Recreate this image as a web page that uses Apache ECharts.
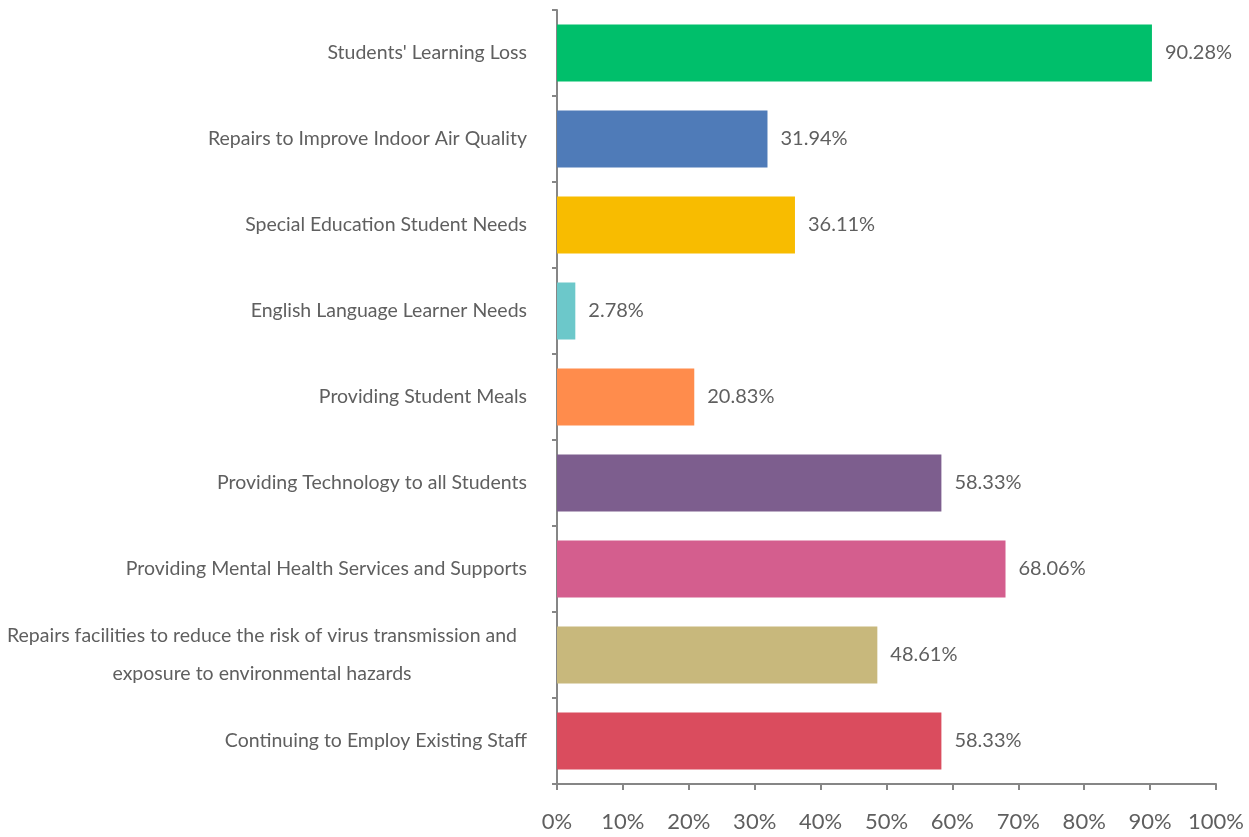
<!DOCTYPE html>
<html>
<head>
<meta charset="utf-8">
<script src="https://cdn.jsdelivr.net/npm/echarts@6/dist/echarts.min.js"></script>
<style>
  html, body { margin: 0; padding: 0; background: #fff; }
  #chart { width: 1249px; height: 837px; }
</style>
</head>
<body>
<div id="chart"></div>
<script>
// categories, top to bottom
const categories = [
  "Students' Learning Loss",
  "Repairs to Improve Indoor Air Quality",
  "Special Education Student Needs",
  "English Language Learner Needs",
  "Providing Student Meals",
  "Providing Technology to all Students",
  "Providing Mental Health Services and Supports",
  "Repairs facilities to reduce the risk of virus transmission and\nexposure to environmental hazards",
  "Continuing to Employ Existing Staff"
];
const values = [90.28, 31.94, 36.11, 2.78, 20.83, 58.33, 68.06, 48.61, 58.33];
const barColors = ["#00bf6b", "#4f7bb8", "#f8bc00", "#6cc8ca", "#ff8c4c", "#7d5e8e", "#d45e8e", "#c8b87c", "#da4c5e"];
const xTicks = [0, 10, 20, 30, 40, 50, 60, 70, 80, 90, 100];

const font = "Lato, sans-serif";
const grey = "#5f5f5f";

const chart = echarts.init(document.getElementById("chart"));
const options = {
  animation: false,
  grid: {
    left: 557,
    right: 33,
    top: 10,
    bottom: 53,
    outerBoundsMode: "none",
    containLabel: false
  },
  xAxis: {
    type: "value",
    min: xTicks[0],
    max: xTicks[xTicks.length - 1],
    interval: 10,
    axisLine: { show: true, lineStyle: { color: "#868686", width: 2 } },
    axisTick: { show: true, length: 6, lineStyle: { color: "#868686", width: 2 } },
    splitLine: { show: false },
    axisLabel: {
      margin: 27,
      fontFamily: font,
      fontSize: 22,
      color: grey,
      formatter: (v) => v + "%"
    }
  },
  yAxis: {
    type: "category",
    inverse: true,
    data: categories,
    axisLine: { show: true, lineStyle: { color: "#868686", width: 2 } },
    axisTick: { show: true, length: 5, lineStyle: { color: "#868686", width: 2 } },
    axisLabel: {
      margin: 30,
      fontFamily: font,
      fontSize: 19.5,
      color: grey,
      lineHeight: 38,
      formatter: (v) => {
        if (v.indexOf("\n") >= 0) {
          return v.split("\n").map((s) => "{c|" + s + "}").join("\n");
        }
        return v;
      },
      rich: {
        c: {
          width: 510,
          align: "center",
          padding: [0, 10, 0, 0],
          fontFamily: font,
          fontSize: 19.5,
          color: grey,
          lineHeight: 38
        }
      }
    }
  },
  series: [
    {
      type: "bar",
      data: values.map((v, i) => ({ value: v, itemStyle: { color: barColors[i] } })),
      barCategoryGap: "34%",
      label: {
        show: true,
        position: "right",
        distance: 13,
        fontFamily: font,
        fontSize: 20,
        color: grey,
        formatter: (p) => p.value.toFixed(2) + "%"
      }
    }
  ]
};
chart.setOption(options);
</script>
</body>
</html>
